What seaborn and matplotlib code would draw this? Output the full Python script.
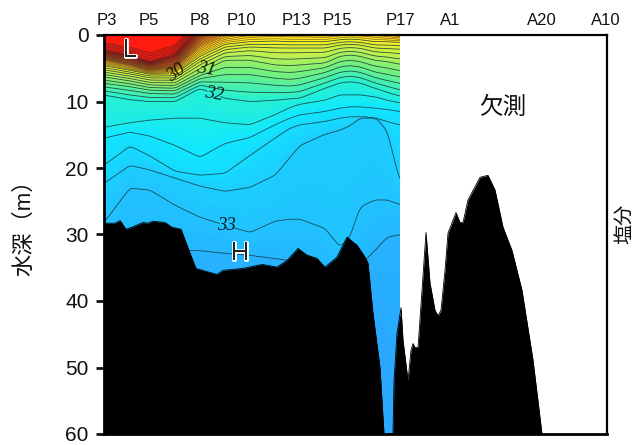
import numpy as np
import matplotlib
matplotlib.use("Agg")
import matplotlib.pyplot as plt
import matplotlib.patheffects as pe
from matplotlib.colors import LinearSegmentedColormap
import seaborn as sns

station_labels = ["P3", "P5", "P8", "P10", "P13", "P15", "P17", "A1", "A20", "A10"]
station_x = [3, 45, 96, 137, 192, 233, 296, 346, 438, 502]
depth_ticks = [0, 10, 20, 30, 40, 50, 60]

section_x = [0, 26, 46, 71, 96, 121, 146, 171, 186, 196, 221, 236, 246, 256, 271, 283, 296]
isohaline_s = [22, 25, 27, 28, 29, 30, 30.5, 31, 31.5, 32, 32.2, 32.4, 32.6, 32.8, 33, 33.2, 33.4]
isohaline_depth = [
    [-1, -0.5, 0, -1, -5, -8, -9, -9, -9, -9, -9, -9, -9, -9, -9, -9, -9],
    [2.2, 3, 4, 2.8, -1.5, -4, -5, -5, -5, -5, -5, -5, -5, -5, -5, -5, -5],
    [3, 3.8, 4.6, 3.9, 0, -2, -3, -3, -3, -3, -3, -3, -3, -3, -3, -3, -3],
    [3.4, 4.2, 5, 4.5, 0.8, -1, -2, -2, -2, -2, -2, -2, -2, -2, -2, -2, -1.5],
    [3.8, 4.6, 5.4, 5, 1.8, 0.1, -0.6, -0.8, -0.8, -0.8, -0.6, -0.8, -1, -0.8, -0.6, -0.3, 0],
    [4.6, 5.3, 5.9, 5.8, 3.2, 1.4, 1, 0.9, 1, 1, 1, 0.7, 0.6, 0.7, 1, 1, 1.1],
    [5.4, 6, 6.6, 6.6, 4.2, 2.4, 2, 2.2, 2.2, 2.2, 2.2, 1.7, 1.6, 1.7, 2.2, 2.3, 2.4],
    [6.3, 6.9, 7.5, 7.6, 5.6, 3.8, 3.8, 4.5, 4.6, 4.5, 4.2, 3.2, 3, 3.2, 3.8, 4, 4.4],
    [7.5, 8, 8.5, 8.6, 6.8, 6.5, 6.5, 7, 7.2, 7, 6, 5.2, 5, 5.2, 6, 6.4, 6.8],
    [9, 9.7, 10, 10, 8, 9.5, 10, 9.8, 9.6, 9.5, 8, 7.2, 7, 7.2, 8, 8.6, 9.2],
    [13.9, 13.2, 12.8, 12.5, 12.5, 13.2, 13.5, 12, 10.9, 10.4, 9.8, 9, 9, 9, 9.3, 9.8, 10.2],
    [15.5, 14.6, 15.2, 16.6, 18.4, 16.3, 15.4, 13.5, 12.5, 12, 11.5, 11, 10.8, 10.8, 11, 11.2, 11.5],
    [19.6, 16.7, 18.2, 20.5, 21.1, 20.8, 18.1, 15.5, 14, 13.5, 13, 12.5, 12.3, 12.3, 12.5, 13, 13.5],
    [22.3, 19.6, 20.3, 21.5, 22.7, 23.5, 22.9, 21.1, 18.4, 16.6, 14.9, 14.3, 13.6, 12.5, 12.3, 14.3, 22.1],
    [28.2, 23, 23.3, 25.6, 27.4, 28.6, 29.7, 28, 27.7, 27.7, 29.1, 31.9, 30.4, 25.9, 24.8, 24.8, 25.5],
    [35.4, 33.9, 33.9, 32.4, 32.4, 32.8, 33.1, 33.6, 33.9, 34.2, 35.4, 36.1, 35.4, 34.6, 32.4, 30.4, 30],
    [60, 60, 60, 60, 60, 60, 60, 60, 60, 60, 60, 60, 55, 50, 46, 49.7, 54.2],
]

bottom_x = [0, 11, 16, 22, 28, 39, 44, 49, 61, 68, 77, 86, 92, 101, 113, 119, 139, 158, 173, 183, 194, 203,
            213, 221, 233, 243, 253, 261, 264, 269, 276, 280, 289, 290, 293, 297, 299, 304, 307, 309, 311,
            314, 318, 322, 326, 331, 334, 337, 341, 344, 352, 356, 359, 364, 376, 384, 391, 399, 408, 418,
            429, 438]
bottom_depth = [28.3, 28.3, 27.9, 29.2, 28.9, 28.2, 28.3, 28, 28.2, 28.9, 29.2, 32.8, 35.1, 35.5, 36, 35.4,
                35.1, 34.5, 34.9, 33.9, 32.1, 33.1, 33.6, 34.9, 33.4, 30.4, 31.6, 33.4, 34.3, 41.9, 50, 60,
                60, 52, 44.9, 41, 45.9, 52, 47.4, 46.4, 47, 47, 38.4, 29.7, 37.3, 41.4, 42.2, 41.4, 35.4,
                29.8, 26.7, 28.2, 28.2, 24.8, 21.4, 21.1, 23.3, 28.9, 32.4, 38.4, 48.9, 60]

red_levels = [s for s in np.round(np.arange(24, 30, 0.2), 1)]
mid_levels = [s for s in np.round(np.arange(30, 33.41, 0.2), 1) if s not in (30.0, 31.0, 32.0, 33.0)]
label_levels = [30.0, 31.0, 32.0, 33.0]

sns.set_theme(style="ticks")
plt.rcParams["font.family"] = ["Liberation Sans", "Noto Sans CJK JP", "DejaVu Sans"]

fig = plt.figure(figsize=(6.43, 4.45), dpi=100)
ax = fig.add_axes([104 / 643, 1 - 434 / 445, 503 / 643, 399 / 445])

gx = np.linspace(0, 296, 593)
gz = np.linspace(-0.2, 60, 603)
table = np.array(isohaline_depth)
col = np.array([np.interp(gx, section_x, row) for row in table])
win = np.hanning(25)
win /= win.sum()
col = np.array([np.convolve(np.pad(r, 12, mode="edge"), win, mode="valid") for r in col])
field = np.zeros((gz.size, gx.size))
for j in range(gx.size):
    field[:, j] = np.interp(gz, np.maximum.accumulate(col[:, j] + np.arange(len(isohaline_s)) * 1e-4), isohaline_s)

cmap = LinearSegmentedColormap.from_list(
    "sal",
    [(0.0, "#ff1a10"), (0.33, "#ff1c10"), (0.55, "#ff8a18"), (0.70, "#fff020"), (0.76, "#c8f048"),
     (0.82, "#70f080"), (0.877, "#28f0d0"), (0.912, "#10e8ff"), (0.965, "#20c4ff"), (1.0, "#2aa8ff")])
ax.contourf(gx, gz, field, levels=np.linspace(22, 33.4, 230), cmap=cmap, extend="both")
ax.contour(gx, gz, field, levels=red_levels, colors="#3a2020", linewidths=0.45, alpha=0.7)
ax.contour(gx, gz, field, levels=mid_levels, colors="#16363a", linewidths=0.6, alpha=0.85)
cs = ax.contour(gx, gz, field, levels=label_levels, colors="#16363a", linewidths=0.6, alpha=0.85)
labs = ax.clabel(cs, inline=True, inline_spacing=1, fmt="%d", fontsize=13.5, colors="black",
                 manual=[(72, 5.8), (102, 5.6), (108, 10.5), (122, 29)])
for t, rot in zip(labs, [35, -10, -10, 0]):
    t.set_fontfamily("Liberation Serif")
    t.set_fontstyle("italic")
    t.set_rotation(rot)

ax.fill_between(bottom_x, bottom_depth, 60, color="black", lw=0, zorder=3)
sns.lineplot(x=bottom_x, y=bottom_depth, color="black", lw=0.6, ax=ax, zorder=3, sort=False, errorbar=None)

ax.set_xlim(0, 503)
ax.set_ylim(60, 0)
ax.set_xticks(station_x, station_labels)
ax.xaxis.tick_top()
ax.tick_params(axis="x", length=0, labelsize=12, pad=5, colors="#111111")
ax.set_yticks(depth_ticks)
ax.tick_params(axis="y", length=6, width=2, labelsize=15, pad=5, colors="#111111")
for s, w in dict(left=2, bottom=2, top=1.6, right=1.6).items():
    ax.spines[s].set_visible(True)
    ax.spines[s].set_linewidth(w)
    ax.spines[s].set_color("black")
fig.text(25 / 643, 1 - 222 / 445, "水深（m）", fontsize=16, rotation=90, ha="center", va="center", color="#111111")

outline = [pe.withStroke(linewidth=2, foreground="white")]
ax.text(26, 2.3, "L", fontsize=19, ha="center", va="center", color="#222222", path_effects=outline, zorder=5)
ax.text(136, 32.8, "H", fontsize=19, ha="center", va="center", color="#222222", path_effects=outline, zorder=5)
ax.text(399, 11, "欠測", fontsize=17, ha="center", va="center", color="#111111", zorder=5)
fig.text(625 / 643, 1 - 224 / 445, "塩分", fontsize=14.5, rotation=90, ha="center", va="center", color="#111111")

fig.savefig("out.png", dpi=100)
